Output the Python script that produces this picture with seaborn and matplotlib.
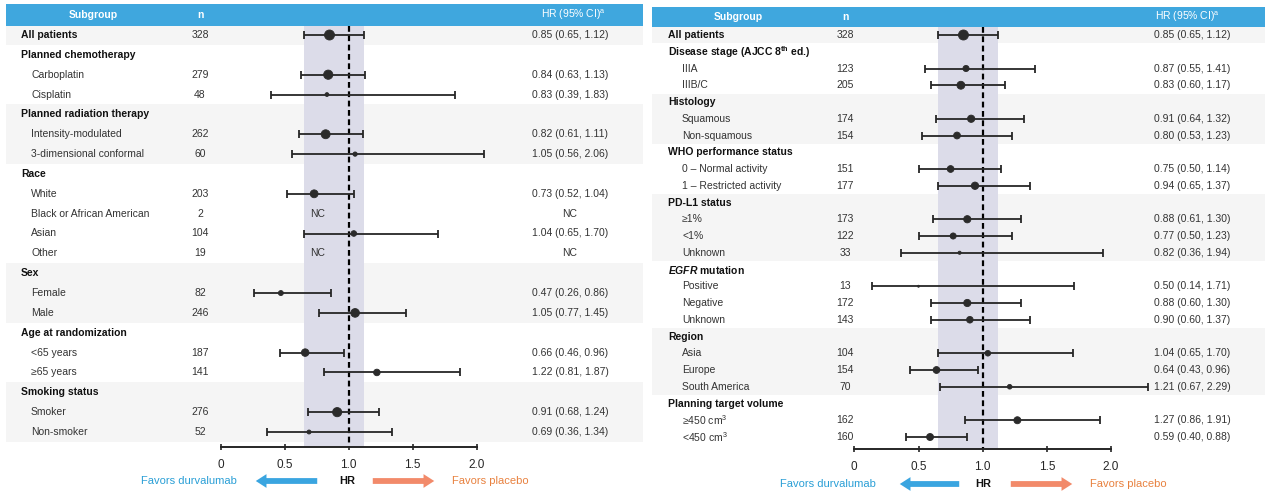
import numpy as np
import pandas as pd
import matplotlib
matplotlib.use("Agg")
import matplotlib.pyplot as plt
import matplotlib.transforms as mtransforms
import seaborn as sns

nan = np.nan

# ---------------- left panel data ----------------
left_labels = ["All patients", "Planned chemotherapy", "Carboplatin", "Cisplatin",
               "Planned radiation therapy", "Intensity-modulated", "3-dimensional conformal",
               "Race", "White", "Black or African American", "Asian", "Other",
               "Sex", "Female", "Male",
               "Age at randomization", "<65 years", "≥65 years",
               "Smoking status", "Smoker", "Non-smoker"]
left_kind = ["total", "head", "sub", "sub",
             "head", "sub", "sub",
             "head", "sub", "sub", "sub", "sub",
             "head", "sub", "sub",
             "head", "sub", "sub",
             "head", "sub", "sub"]
left_n = [328, None, 279, 48, None, 262, 60, None, 203, 2, 104, 19,
          None, 82, 246, None, 187, 141, None, 276, 52]
left_hr = [0.85, nan, 0.84, 0.83, nan, 0.82, 1.05, nan, 0.73, nan, 1.04, nan,
           nan, 0.47, 1.05, nan, 0.66, 1.22, nan, 0.91, 0.69]
left_lo = [0.65, nan, 0.63, 0.39, nan, 0.61, 0.56, nan, 0.52, nan, 0.65, nan,
           nan, 0.26, 0.77, nan, 0.46, 0.81, nan, 0.68, 0.36]
left_hi = [1.12, nan, 1.13, 1.83, nan, 1.11, 2.06, nan, 1.04, nan, 1.70, nan,
           nan, 0.86, 1.45, nan, 0.96, 1.87, nan, 1.24, 1.34]

# ---------------- right panel data ----------------
right_labels = ["All patients", "Disease stage (AJCC 8$^{\\mathbf{th}}$ ed.)", "IIIA", "IIIB/C",
                "Histology", "Squamous", "Non-squamous",
                "WHO performance status", "0 – Normal activity", "1 – Restricted activity",
                "PD-L1 status", "≥1%", "<1%", "Unknown",
                "$\\mathit{EGFR}$ mutation", "Positive", "Negative", "Unknown",
                "Region", "Asia", "Europe", "South America",
                "Planning target volume", "≥450 cm$^3$", "<450 cm$^3$"]
right_kind = ["total", "head", "sub", "sub",
              "head", "sub", "sub",
              "head", "sub", "sub",
              "head", "sub", "sub", "sub",
              "head", "sub", "sub", "sub",
              "head", "sub", "sub", "sub",
              "head", "sub", "sub"]
right_n = [328, None, 123, 205, None, 174, 154, None, 151, 177,
           None, 173, 122, 33, None, 13, 172, 143, None, 104, 154, 70,
           None, 162, 160]
right_hr = [0.85, nan, 0.87, 0.83, nan, 0.91, 0.80, nan, 0.75, 0.94,
            nan, 0.88, 0.77, 0.82, nan, 0.50, 0.88, 0.90, nan, 1.04, 0.64, 1.21,
            nan, 1.27, 0.59]
right_lo = [0.65, nan, 0.55, 0.60, nan, 0.64, 0.53, nan, 0.50, 0.65,
            nan, 0.61, 0.50, 0.36, nan, 0.14, 0.60, 0.60, nan, 0.65, 0.43, 0.67,
            nan, 0.86, 0.40]
right_hi = [1.12, nan, 1.41, 1.17, nan, 1.32, 1.23, nan, 1.14, 1.37,
            nan, 1.30, 1.23, 1.94, nan, 1.71, 1.30, 1.37, nan, 1.70, 0.96, 2.29,
            nan, 1.91, 0.88]

overall_lo, overall_hi = 0.65, 1.12
hr_ticks = [0, 0.5, 1.0, 1.5, 2.0]
tick_labels = ["0", "0.5", "1.0", "1.5", "2.0"]

W, H = 1267, 497
HEADER_BLUE = "#3fa7de"
BAND = "#dcdce9"
STRIPE = "#f5f5f5"
INK = "#262626"

sns.set_theme(style="white")
plt.rcParams["font.family"] = ["Liberation Sans", "DejaVu Sans"]
plt.rcParams["mathtext.fontset"] = "custom"
plt.rcParams["mathtext.rm"] = "Liberation Sans"
plt.rcParams["mathtext.bf"] = "Liberation Sans:bold"
plt.rcParams["mathtext.it"] = "Liberation Sans:italic:bold"

fig = plt.figure(figsize=(W / 100, H / 100), dpi=100)
fig.patch.set_facecolor("white")


def draw_panel(labels, kind, n, hr, lo, hi, geo):
    x0, x1 = geo["x0"], geo["x1"]
    zero, unit = geo["zero"], geo["unit"]
    ry0, step = geo["row_y0"], geo["step"]
    htop, hbot, axpx = geo["header_top"], geo["header_bottom"], geo["axis_px"]

    def xd(px):
        return (px - zero) / unit

    def yd(px):
        return (px - ry0) / step

    ax = fig.add_axes([x0 / W, 1 - axpx / H, (x1 - x0) / W, (axpx - htop) / H])
    ax.set_xlim(xd(x0), xd(x1))
    ax.set_ylim(yd(axpx), yd(htop))
    ax.patch.set_alpha(0)

    rows = np.arange(len(labels))
    df = pd.DataFrame({"label": labels, "kind": kind, "n": n,
                       "hr": hr, "lo": lo, "hi": hi, "row": rows})
    # group index: the overall row is its own group, each heading starts a new one
    grp, g = [], 0
    for k in kind:
        if k == "head":
            g += 1
        grp.append(g)
    df["group"] = grp

    # alternating light stripes per subgroup block
    for gi, sub in df.groupby("group"):
        if gi % 2 == 0:
            ax.axhspan(sub.row.min() - 0.5, sub.row.max() + 0.5, color=STRIPE, zorder=0, lw=0)

    # overall CI band and reference line
    ax.fill_betweenx([yd(hbot), yd(axpx)], overall_lo, overall_hi, color=BAND, zorder=1, lw=0)
    ax.plot([1, 1], [yd(hbot), yd(axpx)], color="black", lw=1.6,
            dashes=(2.6, 1.6), zorder=2)

    # header bar
    ax.axhspan(yd(hbot), yd(htop), color=HEADER_BLUE, zorder=1, lw=0, clip_on=False)
    hy = yd((htop + hbot) / 2)
    ax.text(xd(geo["sub_hdr"]), hy, "Subgroup", color="white", fontsize=7.5,
            weight="bold", ha="center", va="center")
    ax.text(xd(geo["n_x"]), hy, "n", color="white", fontsize=7.5,
            weight="bold", ha="center", va="center")
    ax.text(xd(geo["hr_hdr"]), hy, "HR (95% CI)$^{\\mathrm{a}}$", color="white",
            fontsize=7.5, ha="center", va="center")

    # estimates
    est = df.dropna(subset=["hr"])
    ax.errorbar(est.hr, est.row, xerr=[est.hr - est.lo, est.hi - est.hr], fmt="none",
                ecolor=INK, elinewidth=1.3, capsize=3.2, capthick=1.3, zorder=3)
    sns.scatterplot(data=est, x="hr", y="row", size="n", sizes=(0, 52),
                    size_norm=(0, 328), color="#2b2b2b", edgecolor="#2b2b2b",
                    linewidth=0.6, legend=False, ax=ax, zorder=4)

    # text columns
    for _, r in df.iterrows():
        if r.kind in ("total", "head"):
            ax.text(xd(geo["head_x"]), r.row, r.label, fontsize=7.5, weight="bold",
                    color="#111111", ha="left", va="center")
        else:
            ax.text(xd(geo["sub_x"]), r.row, r.label, fontsize=7.5,
                    color="#333333", ha="left", va="center")
        if pd.notna(r.n):
            ax.text(xd(geo["n_x"]), r.row, f"{int(r.n)}", fontsize=7.5,
                    color="#333333", ha="center", va="center")
            if pd.notna(r.hr):
                txt = f"{r.hr:.2f} ({r.lo:.2f}, {r.hi:.2f})"
            else:
                txt = "NC"
                ax.text(0.76, r.row, "NC", fontsize=7.5, color="#333333",
                        ha="center", va="center", zorder=5)
            ax.text(xd(geo["hr_x"]), r.row, txt, fontsize=7.5, color="#333333",
                    ha="center", va="center")

    # HR axis
    for s in ["top", "right", "left"]:
        ax.spines[s].set_visible(False)
    ax.spines["bottom"].set_bounds(0, 2)
    ax.spines["bottom"].set_color(INK)
    ax.spines["bottom"].set_linewidth(1.4)
    ax.set_xticks(hr_ticks)
    ax.set_xticklabels(tick_labels)
    ax.set_yticks([])
    ax.tick_params(axis="x", direction="inout", length=5, width=1.2, color=INK,
                   labelsize=8.5, labelcolor=INK, pad=6, bottom=True)
    ax.set_xlabel("")
    ax.set_ylabel("")
    ax.grid(False)

    # direction legend under the axis
    tr = mtransforms.blended_transform_factory(ax.transData, fig.transFigure)
    fy = 1 - geo["fav_y"] / H
    ax.text(xd(geo["fav_d_right"]), fy, "Favors durvalumab", color="#2a9fd6",
            fontsize=8, ha="right", va="center", transform=tr)
    ax.text(xd(geo["hr_lab"]), fy, "HR", color="#111111", fontsize=8,
            weight="bold", ha="center", va="center", transform=tr)
    ax.text(xd(geo["fav_p_left"]), fy, "Favors placebo", color="#e8813f",
            fontsize=8, ha="left", va="center", transform=tr)
    arrow = "simple,head_length=0.7,head_width=0.9,tail_width=0.38"
    ax.annotate("", xy=(xd(geo["blue_arrow"][1]), fy), xytext=(xd(geo["blue_arrow"][0]), fy),
                xycoords=tr, textcoords=tr, annotation_clip=False,
                arrowprops=dict(arrowstyle=arrow, color="#3aa5e0", mutation_scale=11, lw=0))
    ax.annotate("", xy=(xd(geo["orange_arrow"][1]), fy), xytext=(xd(geo["orange_arrow"][0]), fy),
                xycoords=tr, textcoords=tr, annotation_clip=False,
                arrowprops=dict(arrowstyle=arrow, color="#f28a6a", mutation_scale=11, lw=0))
    return ax


left_geo = dict(x0=6, x1=643, zero=220.7, unit=128.0, row_y0=35, step=19.85,
                header_top=4, header_bottom=26, axis_px=447,
                head_x=21, sub_x=31, n_x=200, hr_x=570, sub_hdr=93, hr_hdr=573,
                fav_y=481, fav_d_right=237, hr_lab=347, fav_p_left=452,
                blue_arrow=(320, 253), orange_arrow=(370, 437))
right_geo = dict(x0=652, x1=1265, zero=854.3, unit=128.4, row_y0=35, step=16.75,
                 header_top=7, header_bottom=27, axis_px=449,
                 head_x=668, sub_x=682, n_x=845, hr_x=1192, sub_hdr=738, hr_hdr=1187,
                 fav_y=484, fav_d_right=876, hr_lab=983, fav_p_left=1090,
                 blue_arrow=(962, 897), orange_arrow=(1008, 1075))

draw_panel(left_labels, left_kind, left_n, left_hr, left_lo, left_hi, left_geo)
draw_panel(right_labels, right_kind, right_n, right_hr, right_lo, right_hi, right_geo)

fig.savefig("out.png", dpi=100, facecolor="white")
